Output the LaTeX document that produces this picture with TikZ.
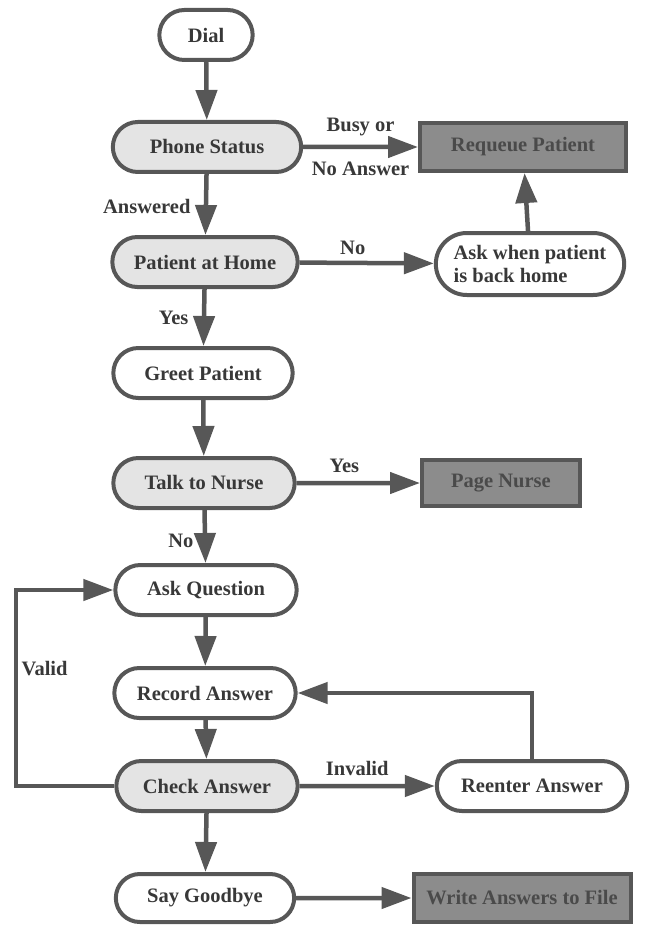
\documentclass[tikz,border=0pt]{standalone}
\usepackage{fontspec}
\setmainfont{Liberation Serif}
\usetikzlibrary{arrows.meta,shapes.misc}
\definecolor{linegray}{HTML}{575757}
\definecolor{textgray}{HTML}{383838}
\definecolor{queryfill}{HTML}{E4E4E4}
\definecolor{outfill}{HTML}{8C8C8C}
\definecolor{outtext}{HTML}{4A4A4A}

\begin{document}
\begin{tikzpicture}[x=1pt,y=-1pt,
font=\fontsize{20.5}{23}\selectfont\bfseries,
task/.style={rounded rectangle, draw=linegray, line width=4pt, fill=white, text=textgray, minimum height=50pt, minimum width=188pt},
query/.style={task, fill=queryfill},
outcome/.style={rectangle, draw=linegray, line width=4pt, fill=outfill, text=outtext, minimum height=48pt},
flow/.style={draw=linegray, line width=4.5pt, -{Triangle[length=30pt,width=21pt]}},
lbl/.style={text=textgray},
]
\useasboundingbox (0,0) rectangle (650,928);
\node[task, minimum width=100pt] (dial) at (206,35) {Dial};
\node[query, minimum width=195pt] (phone) at (207,147) {Phone Status};
\node[outcome, minimum width=206pt] (requeue) at (523,147) {Requeue Patient};
\node[query, minimum width=192pt] (home) at (205,262) {Patient at Home};
\node[task, minimum width=195pt, minimum height=62pt, align=left] (askback) at (530,264) {Ask when patient\\is back home};
\node[task, minimum width=186pt] (greet) at (203,373) {Greet Patient};
\node[query] (nurse) at (204,483) {Talk to Nurse};
\node[outcome, minimum width=158pt, minimum height=46pt] (page) at (501,483) {Page Nurse};
\node[task] (question) at (206,590) {Ask Question};
\node[task] (record) at (205,693) {Record Answer};
\node[query] (check) at (207,786) {Check Answer};
\node[task, minimum width=197pt] (reenter) at (532,786) {Reenter Answer};
\node[task, minimum width=185pt, minimum height=48pt] (bye) at (205,898) {Say Goodbye};
\node[outcome, minimum width=217pt] (file) at (522,898) {Write Answers to File};
\coordinate (loopx) at (16,0);

% main line
\draw[flow] (dial) -- (phone);
\draw[flow] (phone) -- node[lbl, left, xshift=-10pt, yshift=-2pt] {Answered} (home);
\draw[flow] (home) -- node[lbl, left, xshift=-10pt] {Yes} (greet);
\draw[flow] (greet) -- (nurse);
\draw[flow] (nurse) -- node[lbl, left, xshift=-6pt, yshift=-4pt] {No} (question);
\draw[flow] (question) -- (record);
\draw[flow] (record) -- (check);
\draw[flow] (check) -- (bye);

% side branches
\draw[flow] (phone) -- node[lbl, above=5pt] {Busy or} node[lbl, below=9pt] {No Answer} (requeue);
\draw[flow] (home) -- node[lbl, above=3pt, xshift=-14pt] {No} (askback);
\draw[flow] (askback) -- (requeue);
\draw[flow] (nurse) -- node[lbl, above=5pt, xshift=-14pt] {Yes} (page);
\draw[flow] (check) -- node[lbl, above=5pt, xshift=-10pt] {Invalid} (reenter);
\draw[flow] (bye) -- (file);

% loops
\draw[flow] (reenter.north) |- (record.east);
\draw[flow] (check.west) -- (check.west -| loopx) |- node[lbl, right, pos=0.3] {Valid} (question.west);
\end{tikzpicture}
\end{document}
